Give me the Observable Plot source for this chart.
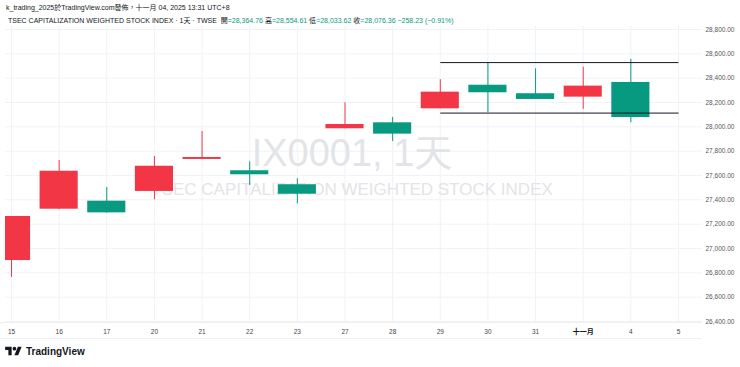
<!DOCTYPE html>
<html>
<head>
<meta charset="utf-8">
<script src="https://cdn.jsdelivr.net/npm/d3@7"></script>
<script src="https://cdn.jsdelivr.net/npm/@observablehq/plot@0.6"></script>
<style>
  html, body { margin: 0; padding: 0; background: #fff; }
  #wrap { position: relative; width: 740px; height: 367px; overflow: hidden; font-family: "Liberation Sans", "Noto Sans CJK TC", Arial, sans-serif; }
  #chart { position: absolute; left: 0; top: 0; }
  .hdr { position: absolute; white-space: nowrap; color: #131722; font-size: 7px; }
  .g { color: #089981; }
  .sep { position: absolute; left: 0; width: 702px; height: 1px; background: #eef0f3; }
  #logo { position: absolute; left: 5px; top: 345px; display: flex; align-items: center; gap: 4px; font-weight: bold; font-size: 10px; color: #131722; }
</style>
</head>
<body>
<div id="wrap">
  <div id="chart"></div>
  <div class="sep" style="top:322px"></div>
  <div class="sep" style="top:338px"></div>
  <div class="hdr" id="h1" style="left:6px;top:2px"></div>
  <div class="hdr" id="h2" style="left:8px;top:15px"></div>
  <div id="logo">
    <svg width="17" height="13" viewBox="0 0 36 28"><path fill="#131722" d="M14 22H7V11H0V4h14v18zM28 22h-8l7.5-18h8L28 22z"></path><circle fill="#131722" cx="20" cy="8" r="4"></circle></svg>
    <span>TradingView</span>
  </div>
</div>
<script>
// ---- data ----
const dates  = ["15","16","17","20","21","22","23","27","28","29","30","31","十一月","4"];
const xLabels = ["15","16","17","20","21","22","23","27","28","29","30","31","十一月","4","5"];
const open   = [26901, 27323, 27389, 27469, 27732, 27639, 27524, 27984, 28033, 28148, 28342, 28272, 28244, 28364.76];
const high   = [27263, 27723, 27501, 27756, 27962, 27713, 27573, 28198, 28077, 28387, 28526, 28477, 28490, 28554.61];
const low    = [26762, 27320, 27290, 27400, 27730, 27518, 27367, 27984, 27879, 28148, 28115, 28225, 28143, 28033.62];
const close  = [27263, 27635, 27293, 27676, 27748, 27606, 27446, 28019, 27940, 28285, 28280, 28225, 28334.59, 28076.36];
const yTicks = [26400, 26600, 26800, 27000, 27200, 27400, 27600, 27800, 28000, 28200, 28400, 28600, 28800];
const levels = [28528, 28113];
const levelFrom = "29", levelTo = "5";
const watermark = ["IX0001, 1天", "TSEC CAPITALIZATION WEIGHTED STOCK INDEX"];
const titleLine1 = "k_trading_2025於TradingView.com發佈，十一月 04, 2025 13:31 UTC+8";
const symbolName = "TSEC CAPITALIZATION WEIGHTED STOCK INDEX · 1天 · TWSE";

// ---- table ----
const candles = dates.map((d, i) => ({date: d, open: open[i], high: high[i], low: low[i], close: close[i]}));
const UP = "#F23645", DOWN = "#089981";
const col = d => d.close >= d.open ? UP : DOWN;
const fmt = d3.format(",.2f");

// header
const last = candles[candles.length - 1];
const prevClose = candles[candles.length - 2].close;
const chg = last.close - prevClose;
document.getElementById("h1").textContent = titleLine1;
document.getElementById("h2").innerHTML =
  `${symbolName}&nbsp;&nbsp;開<span class="g">=${fmt(last.open)}</span> 高<span class="g">=${fmt(last.high)}</span> 低<span class="g">=${fmt(last.low)}</span> 收<span class="g">=${fmt(last.close)}</span> <span class="g">${fmt(chg).replace("-", "−")} (${d3.format(".2%")(chg / prevClose).replace("-", "−")})</span>`;

const chart = Plot.plot({
  width: 740,
  height: 367,
  marginLeft: 5,
  marginRight: 38,
  marginTop: 26,
  marginBottom: 45,
  style: {fontFamily: "'Liberation Sans', 'Noto Sans CJK TC', Arial, sans-serif", fontSize: "6.5px", background: "transparent", overflow: "visible"},
  x: {type: "band", domain: xLabels, range: [-12.82, 701.82], paddingInner: 0.2, paddingOuter: 0.1, round: false, label: null},
  y: {domain: [26400, 28800], range: [321, 29], label: null},
  marks: [
    Plot.ruleX(xLabels, {x: d => d, stroke: "#f0f2f5"}),
    Plot.ruleY(yTicks, {y: d => d, stroke: "#f0f2f5"}),
    Plot.text(watermark.slice(0, 1), {frameAnchor: "middle", text: d => d, dx: -2, dy: -21, fontSize: 38, fill: "#e3e4e7"}),
    Plot.text(watermark.slice(1), {frameAnchor: "middle", text: d => d, dx: -2, dy: 15, fontSize: 17, fill: "#e3e4e7"}),
    Plot.ruleX(candles, {x: "date", y1: "low", y2: "high", stroke: col, strokeWidth: 1, clip: "frame"}),
    Plot.barY(candles, {x: "date", y1: "open", y2: "close", fill: col, clip: "frame"}),
    Plot.link(levels, {x1: () => levelFrom, x2: () => levelTo, y1: d => d, y2: d => d, stroke: "#131722", strokeWidth: 1}),
    Plot.axisY(yTicks, {anchor: "right", tickSize: 0, tickPadding: 3, tickFormat: fmt, fill: "#555", fontSize: 6.5}),
    Plot.axisX(xLabels.filter(d => d !== "十一月"), {anchor: "bottom", tickSize: 0, tickPadding: 7, fill: "#444", fontSize: 6.5}),
    Plot.axisX(["十一月"], {anchor: "bottom", tickSize: 0, tickPadding: 7, fill: "#131722", fontSize: 7, fontWeight: "bold"})
  ]
});
document.getElementById("chart").appendChild(chart);
</script>
</body>
</html>
